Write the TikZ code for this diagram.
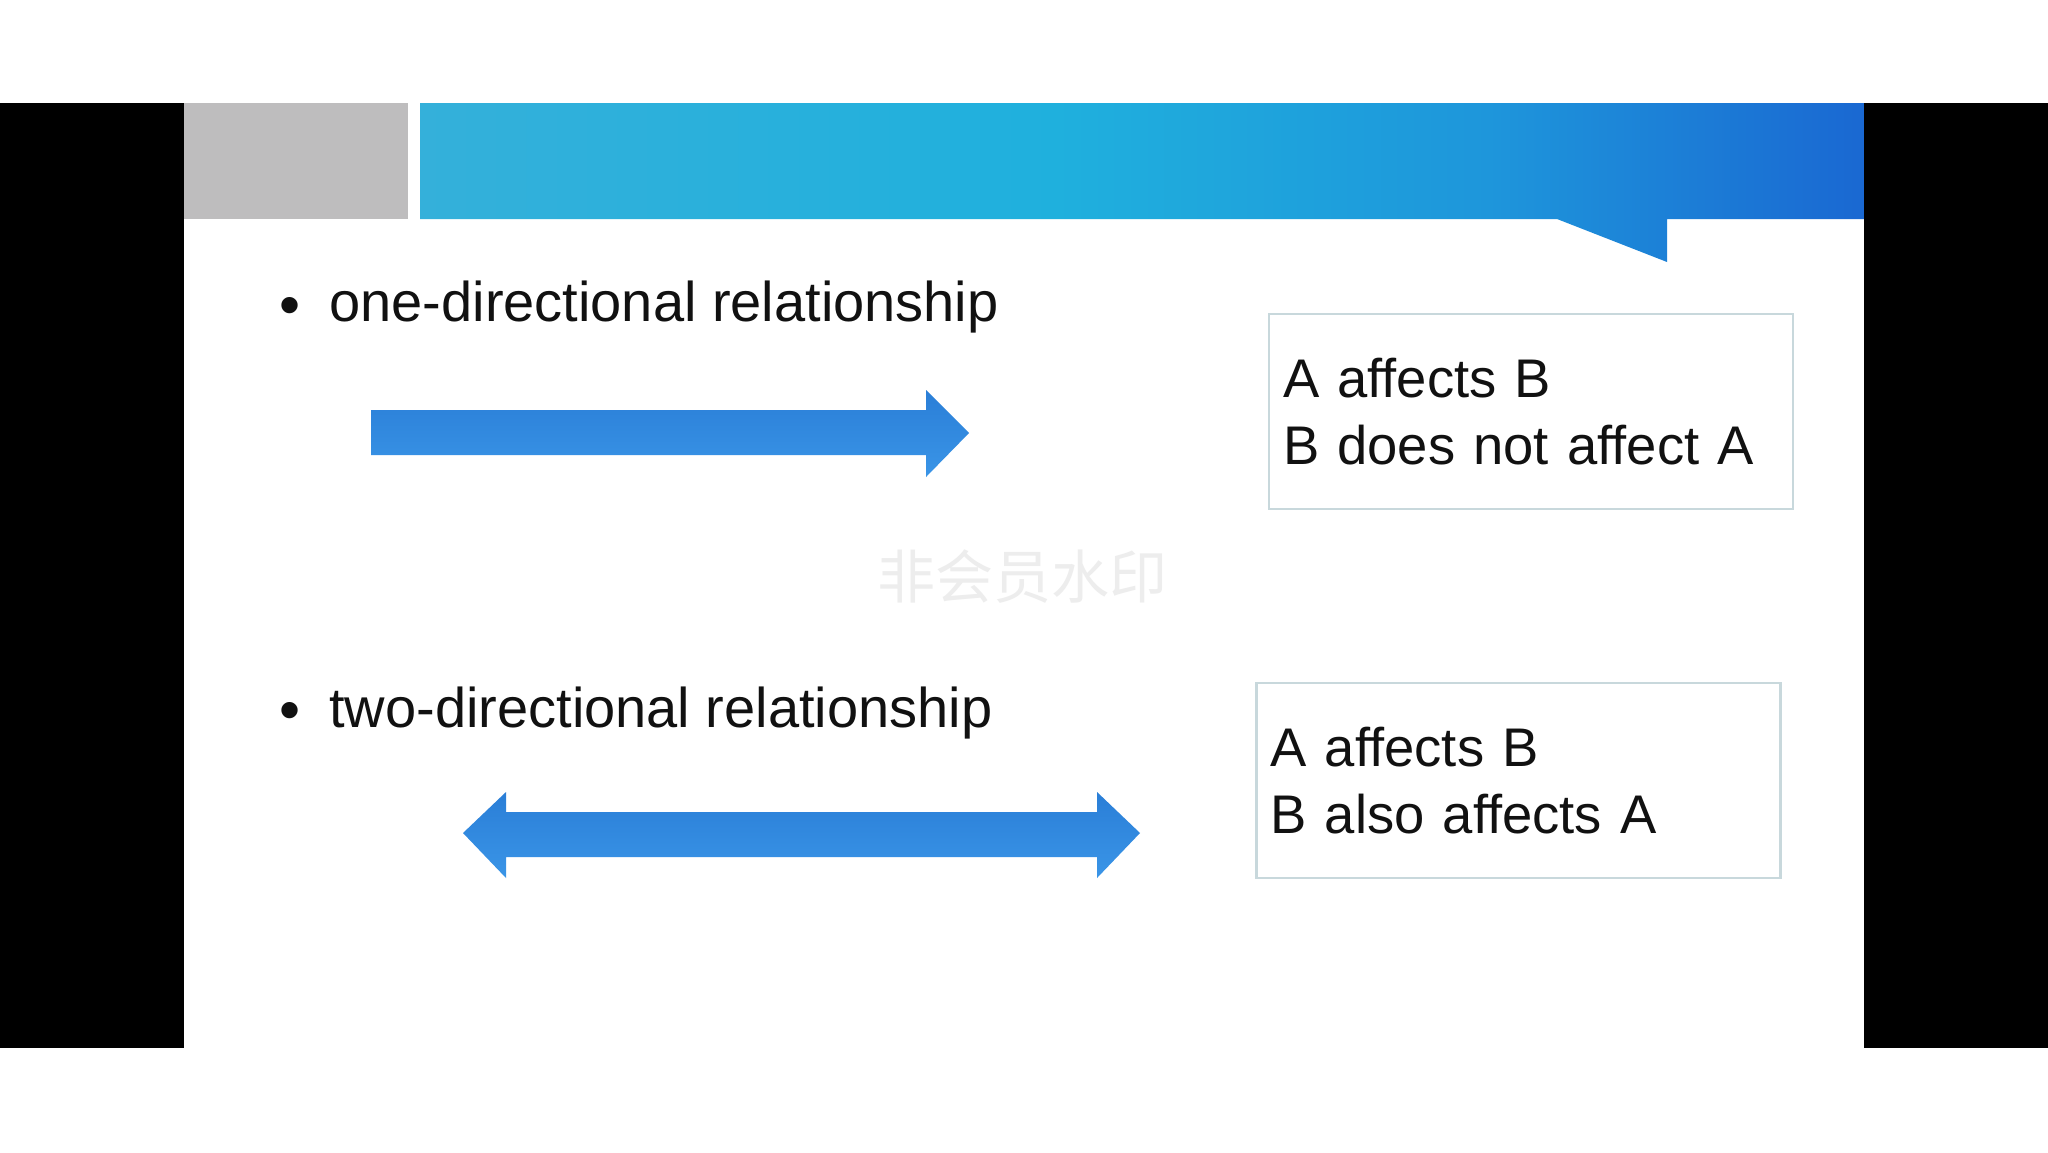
\documentclass[tikz,border=0pt]{standalone}
\usepackage{fontspec}
\setsansfont{Liberation Sans}
\newfontfamily\cjk{Noto Sans CJK SC}
\usepackage{xcolor}
\definecolor{ink}{HTML}{111111}
\definecolor{framec}{HTML}{C8D8DC}
\definecolor{greyc}{HTML}{BEBDBE}
\definecolor{bannerl}{HTML}{34B0DA}
\definecolor{bannerm}{HTML}{1FB0DD}
\definecolor{bannerx}{HTML}{1E96DB}
\definecolor{bannerr}{HTML}{1A68D2}
\definecolor{arrowt}{HTML}{2A7ED7}
\definecolor{arrowb}{HTML}{3A95E7}
\definecolor{markc}{HTML}{EDEDED}
\usepackage{tikz}
\pgfdeclarehorizontalshading{bannershade}{100bp}{color(0bp)=(bannerl); color(25bp)=(bannerl); color(47bp)=(bannerm); color(62bp)=(bannerx); color(75bp)=(bannerr); color(100bp)=(bannerr)}

\begin{document}
\begin{tikzpicture}[x=0.5pt,y=-0.5pt,every node/.style={font=\sffamily,text=ink,inner sep=0pt}]
\tikzstyle{bigtext}=[font=\sffamily\fontsize{28}{33.5}\selectfont,anchor=base west]
\tikzstyle{dotmark}=[font=\sffamily\fontsize{30}{30}\selectfont,anchor=center]
\tikzstyle{box}=[draw=framec,line width=1.2pt,fill=white,minimum height=97.5pt,text width=248pt,inner xsep=7pt,align=left,font=\sffamily\fontsize{27.2}{33.5}\selectfont]
\tikzstyle{blockarrow}=[top color=arrowt,bottom color=arrowb]
\useasboundingbox (0,0) rectangle (2048,1152);
\fill[white] (0,0) rectangle (2048,1152);
\fill[black] (0,103) rectangle (184,1048);
\fill[black] (1864,103) rectangle (2048,1048);
\fill[greyc] (184,103) rectangle (408,219);
\shade[shading=bannershade] (420,103) -- (1864,103) -- (1864,219) -- (1667,219) -- (1667,262) -- (1557,219) -- (420,219) -- cycle;
\node[font=\cjk\fontsize{29}{29}\selectfont,text=markc] (mark) at (1022,577) {非会员水印};
\node[dotmark] (dot1) at (290,311) {•};
\node[bigtext] (one) at (329,321) {one-directional relationship};
\node[dotmark] (dot2) at (290,716) {•};
\node[bigtext] (two) at (329,727) {two-directional relationship};
\shade[blockarrow] (371,410) -- (926,410) -- (926,390) -- (969,433) -- (926,477) -- (926,455) -- (371,455) -- cycle;
\shade[blockarrow] (463,833) -- (506,792) -- (506,812) -- (1097,812) -- (1097,792) -- (1140,833) -- (1097,878) -- (1097,857) -- (506,857) -- (506,878) -- cycle;
\node[box] (onebox) at (1531,411.5) {A affects B\\B does not affect A};
\node[box] (twobox) at (1518.5,780.5) {A affects B\\B also affects A};
\end{tikzpicture}
\end{document}
